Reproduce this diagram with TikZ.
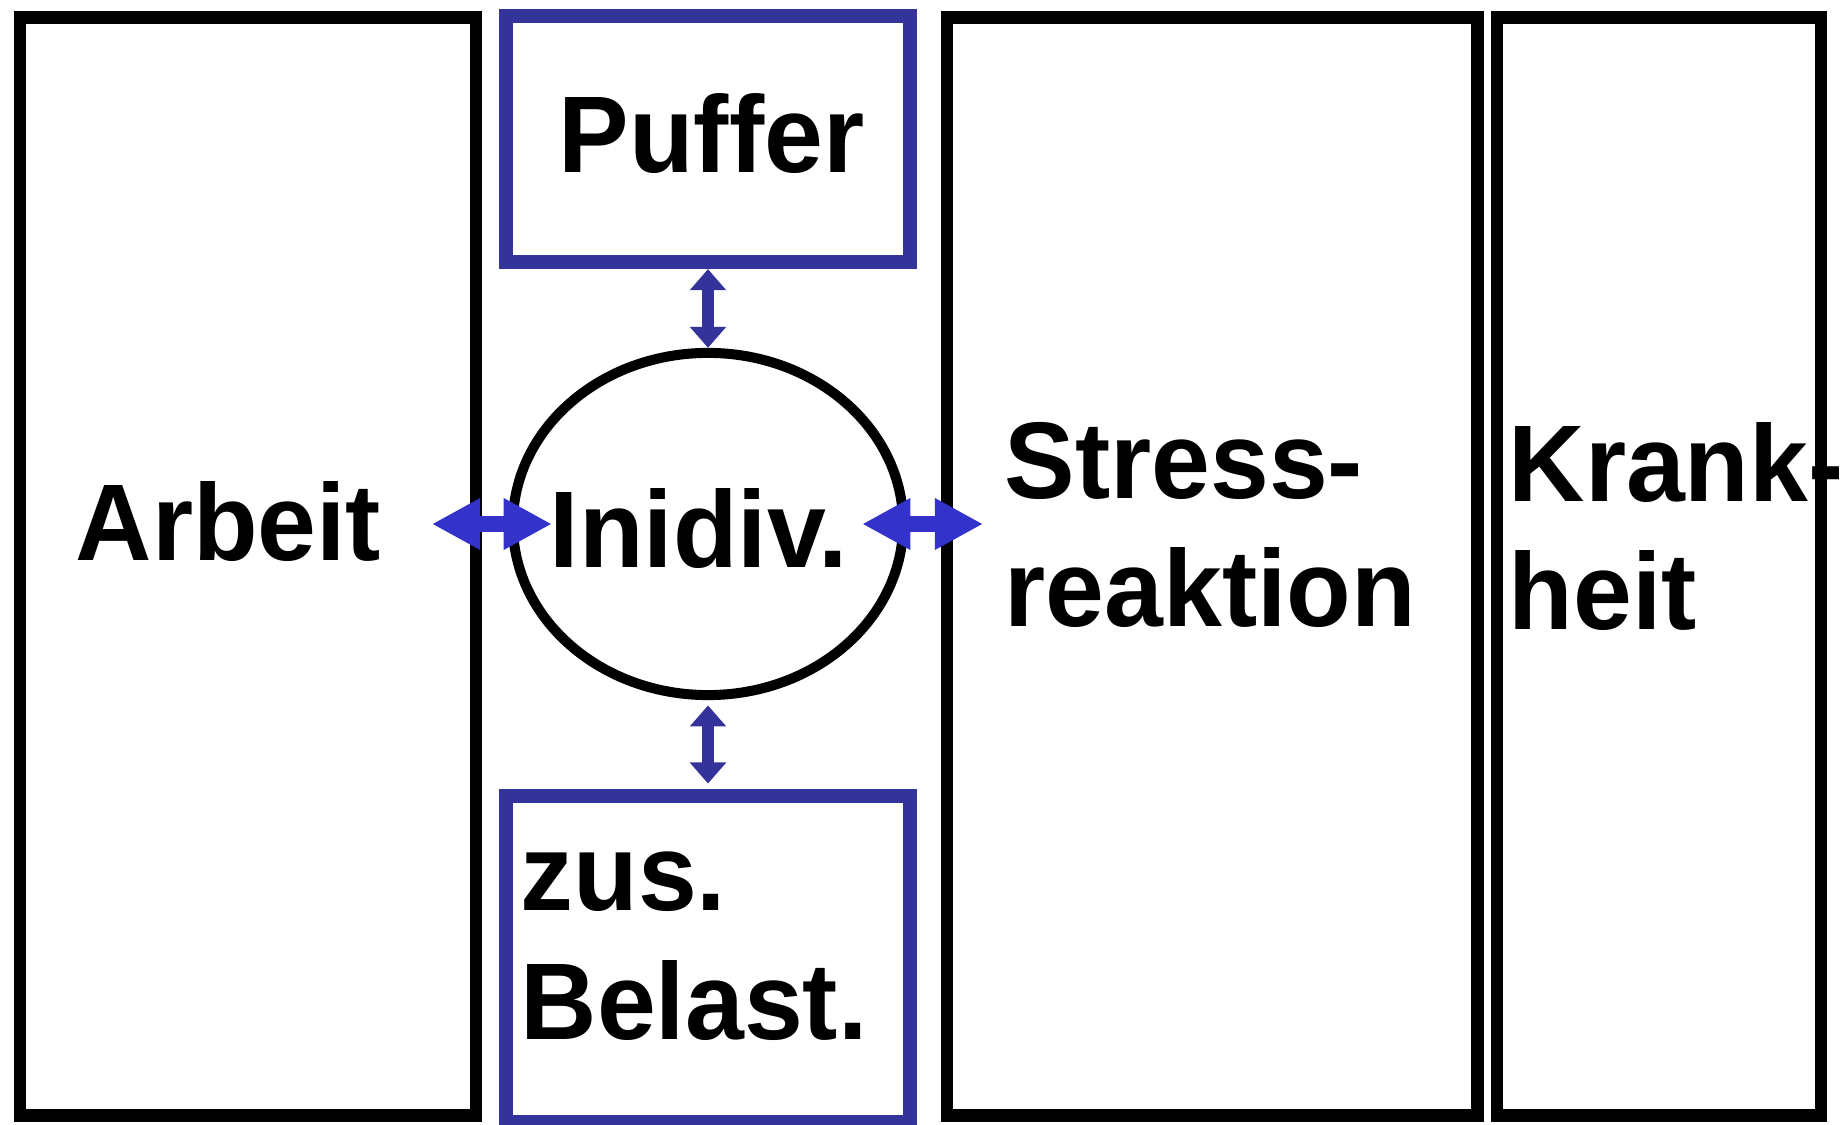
\documentclass[tikz,border=0pt]{standalone}
\usepackage{fontspec}
\setmainfont{Liberation Sans}[FakeStretch=0.97]
\usepackage{tikz}
\usetikzlibrary{arrows.meta,calc,shapes.geometric}
\definecolor{dunkelblau}{RGB}{51,51,153}
\definecolor{hellblau}{RGB}{51,51,204}
\tikzset{
  kasten/.style={draw=black,line width=3.6pt,inner sep=0pt},
  blaukasten/.style={draw=dunkelblau,line width=4pt,inner sep=0pt},
  wort/.style={inner sep=0pt,anchor=base west,align=left,
    font=\fontsize{31}{36.5}\selectfont\bfseries},
  hpfeil/.style={hellblau,line width=4.6pt,
    {Triangle[length=13.7pt,width=13.7pt]}-{Triangle[length=13.7pt,width=13.7pt]}},
  vpfeil/.style={dunkelblau,line width=3.5pt,
    {Triangle[length=6pt,width=10pt]}-{Triangle[length=6pt,width=10pt]}}
}
\begin{document}
\begin{tikzpicture}[x=0.01cm,y=-0.01cm]
\useasboundingbox (0,0) rectangle (1845,1125);
% Kaesten
\node[kasten,minimum width=4.56cm,minimum height=10.97cm] (arbeit) at (248,566.5) {};
\node[blaukasten,minimum width=4.03cm,minimum height=2.46cm] (puffer) at (708,139) {};
\node[blaukasten,minimum width=4.03cm,minimum height=3.26cm] (zus) at (708,959) {};
\node[kasten,minimum width=5.30cm,minimum height=10.97cm] (stress) at (1212,566.5) {};
\node[kasten,minimum width=3.24cm,minimum height=10.97cm] (krank) at (1659,566.5) {};
\node[ellipse,draw,line width=2.85pt,minimum width=3.90cm,minimum height=3.42cm,inner sep=0pt] (indiv) at (708,524) {};
% Texte
\node[wort] (tarbeit) at (75,561) {Arbeit};
\node[wort] (tpuffer) at (558,173) {Puffer};
\node[wort] (tindiv) at (549,568) {Inidiv.};
\node[wort] (tstress) at (1004,627) {Stress-\\reaktion};
\node[wort] (tkrank) at (1508,630) {Krank-\\heit};
\node[wort] (tzus) at (520,1039) {zus.\\Belast.};
% Pfeile
\draw[vpfeil] (puffer.south) -- (indiv.north);
\draw[vpfeil,shorten <=1.5pt,shorten >=1.5pt] (indiv.south) -- (zus.north);
\draw[hpfeil] ($(indiv.west)+(-76,0)$) -- ($(indiv.west)+(44,0)$);
\draw[hpfeil] ($(indiv.east)+(-46,0)$) -- ($(indiv.east)+(75,0)$);
\end{tikzpicture}
\end{document}
